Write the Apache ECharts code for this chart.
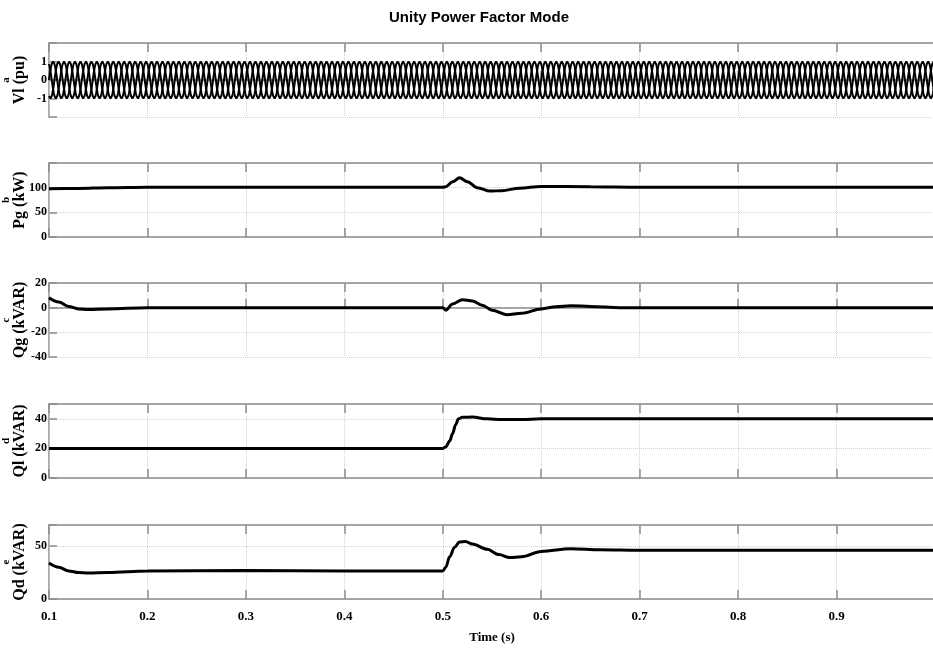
<!DOCTYPE html>
<html>
<head>
<meta charset="utf-8">
<script src="https://cdn.jsdelivr.net/npm/echarts@6/dist/echarts.min.js"></script>
<style>
html,body{margin:0;padding:0;background:#fff;}
#chart{width:933px;height:655px;}
</style>
</head>
<body>
<div id="chart"></div>
<script>
// ---------- data ----------
const titleText = 'Unity Power Factor Mode';
const xTickLabels = ['0.1','0.2','0.3','0.4','0.5','0.6','0.7','0.8','0.9'];
const xLabel = 'Time (s)';
const panelLetters = ['a','b','c','d','e'];
const panelNames = ['Vl (pu)','Pg (kW)','Qg (kVAR)','Ql (kVAR)','Qd (kVAR)'];
const yTickLabels = [[-1,0,1],[0,50,100],[-40,-20,0,20],[0,20,40],[0,50]];

// Panel a: three-phase load voltage, one cycle sampled (pu), 60 Hz, 0.1..1.0 s
const vlCycle = [0,0.26,0.5,0.71,0.87,0.97,1,0.97,0.87,0.71,0.5,0.26,
                 0,-0.26,-0.5,-0.71,-0.87,-0.97,-1,-0.97,-0.87,-0.71,-0.5,-0.26];
const vlFrequency = 60;
const vlStart = 0.1, vlEnd = 1.0;

// Panel b: Pg (kW)
const pgTime = [0.1,0.13,0.16,0.2,0.3,0.4,0.5,0.503,0.51,0.517,0.525,0.535,0.548,0.56,0.578,0.6,0.65,0.7,0.8,0.9,1.0];
const pgVal  = [98,98.5,100,101,101,101,101,102,112,120,112,100,93,94,99,102.5,102,101,101,101,101];

// Panel c: Qg (kVAR)
const qgTime = [0.1,0.11,0.12,0.13,0.14,0.16,0.2,0.3,0.4,0.5,0.503,0.51,0.52,0.53,0.54,0.55,0.565,0.58,0.6,0.615,0.63,0.65,0.68,0.7,1.0];
const qgVal  = [8,4.5,1,-1,-1.5,-1,0,0,0,0,-2,3,6.5,5.5,2,-2,-5.7,-4.5,-1,0.8,1.6,1,0,0,0];

// Panel d: Ql (kVAR)
const qlTime = [0.1,0.5,0.503,0.507,0.51,0.513,0.516,0.52,0.53,0.545,0.56,0.58,0.6,0.7,1.0];
const qlVal  = [20,20,21,25,30,36,40,41,41.2,40,39.5,39.5,40,40,40];

// Panel e: Qd (kVAR)
const qdTime = [0.1,0.11,0.12,0.13,0.14,0.16,0.2,0.3,0.4,0.5,0.503,0.507,0.512,0.517,0.523,0.53,0.545,0.557,0.568,0.58,0.6,0.63,0.66,0.7,0.8,0.9,1.0];
const qdVal  = [34,30,26.5,25,24.5,25,26.5,27,26.5,26.5,30,40,49,54,54.5,52,47,42,39.2,40,45,47.5,46.5,46,46,46,46];

// ---------- layout ----------
const yRanges = [[-2,2,1],[0,150,50],[-40,20,20],[0,50,20],[0,70,50]];
const gridTops = [43,163,283,404,525];
const gridH = 74;
const SERIF = '"Liberation Serif","Times New Roman",serif';
const GRAY = '#8c8c8c';

function pair(t, v){ return t.map((x,i)=>[x, v[i]]); }

// three-phase series from the sampled cycle (each phase shifted by 1/3 cycle)
const n = vlCycle.length;
const totalSamples = Math.round((vlEnd - vlStart) * vlFrequency * n);
function phase(shift){
  const out = [];
  for (let k = 0; k <= totalSamples; k++){
    out.push([vlStart + k/(vlFrequency*n), vlCycle[(k + shift) % n]]);
  }
  return out;
}

const grids = [], xAxes = [], yAxes = [], series = [];
for (let i = 0; i < 5; i++){
  grids.push({left:49, right:-2, top:gridTops[i], height:gridH, show:false,
              containLabel:false, outerBoundsMode:'none'});
  const isLast = i === 4;
  xAxes.push({
    gridIndex:i, type:'value', position:'bottom', min:0.1, max:1.0, interval:0.1, z:3,
    axisLine:{show:true, lineStyle:{color:GRAY, width:1.5}},
    axisTick:{show:true, inside:true, length:9, lineStyle:{color:GRAY, width:1.5}},
    splitLine:{show:true, lineStyle:{color:'#d0d0d0', width:1, type:'dotted'}},
    axisLabel:{show:isLast, margin:11, color:'#000', fontFamily:SERIF, fontWeight:'bold', fontSize:13,
      formatter:v=>{ const s=v.toFixed(1); return xTickLabels.indexOf(s)>=0 ? s : ''; }},
    name: isLast ? xLabel : '', nameLocation:'middle', nameGap:32, nameMoveOverlap:false,
    nameTextStyle:{color:'#000', fontFamily:SERIF, fontWeight:'bold', fontSize:13}
  });
  xAxes.push({
    gridIndex:i, type:'value', position:'top', min:0.1, max:1.0, interval:0.1, z:3,
    axisLine:{show:true, lineStyle:{color:GRAY, width:1.5}},
    axisTick:{show:true, inside:true, length:9, lineStyle:{color:GRAY, width:1.5}},
    splitLine:{show:false}, axisLabel:{show:false}
  });
  const r = yRanges[i], allowed = yTickLabels[i];
  yAxes.push({
    gridIndex:i, type:'value', min:r[0], max:r[1], interval:r[2], z:2,
    axisLine:{show:true, lineStyle:{color:GRAY, width:1.5}},
    axisTick:{show:true, inside:true, length:8, lineStyle:{color:GRAY, width:1.5}},
    splitLine:{show:true, lineStyle:{color:'#d0d0d0', width:1, type:'dotted'}},
    axisLabel:{margin:2, color:'#000', fontFamily:SERIF, fontWeight:'bold', fontSize:12,
      formatter:v=> allowed.indexOf(Math.round(v))>=0 && Math.abs(v-Math.round(v))<1e-9 ? String(Math.round(v)) : ''},
    name:'{s|'+panelLetters[i]+'}\n{m|'+panelNames[i]+'}',
    nameLocation:'middle', nameRotate:90, nameGap:22, nameMoveOverlap:false,
    nameTextStyle:{rich:{
      s:{fontFamily:SERIF, fontWeight:'bold', fontSize:11, lineHeight:11, color:'#000'},
      m:{fontFamily:SERIF, fontWeight:'bold', fontSize:16, lineHeight:15, color:'#000'}
    }}
  });
}

const lineCommon = {type:'line', showSymbol:false, symbol:'none', silent:true, animation:false};
[0, 8, 16].forEach(s=>{
  series.push(Object.assign({}, lineCommon, {xAxisIndex:0, yAxisIndex:0, data:phase(s),
    lineStyle:{color:'#000', width:2}}));
});
const panelData = [[pgTime,pgVal],[qgTime,qgVal],[qlTime,qlVal],[qdTime,qdVal]];
panelData.forEach((d,j)=>{
  const gi = j+1;
  series.push(Object.assign({}, lineCommon, {xAxisIndex:gi*2, yAxisIndex:gi, data:pair(d[0],d[1]),
    smooth:0.35, smoothMonotone:'x', lineStyle:{color:'#000', width:3}}));
});

const chart = echarts.init(document.getElementById('chart'), null, {renderer:'canvas'});
chart.setOption({
  animation:false,
  backgroundColor:'#fff',
  title:{text:titleText, left:384, top:5,
    textStyle:{fontFamily:'"Liberation Sans Narrow","Arial Narrow","Liberation Sans",sans-serif', fontWeight:'bold', fontSize:15, color:'#000'}},
  grid:grids, xAxis:xAxes, yAxis:yAxes, series:series
});
</script>
</body>
</html>
